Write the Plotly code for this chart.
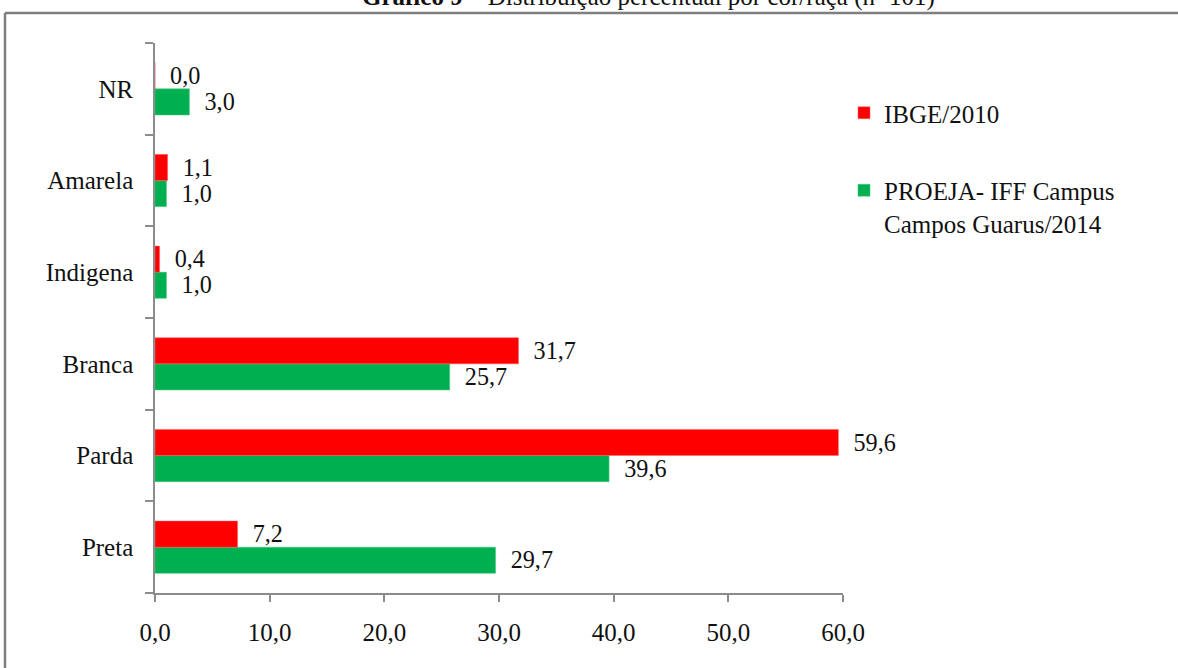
import plotly.graph_objects as go

categories = ["Preta", "Parda", "Branca", "Indigena", "Amarela", "NR"]
ibge_2010 = [7.2, 59.6, 31.7, 0.4, 1.1, 0.0]
proeja_2014 = [29.7, 39.6, 25.7, 1.0, 1.0, 3.0]
x_ticks = [0, 10, 20, 30, 40, 50, 60]

series_names = ["IBGE/2010", "PROEJA- IFF Campus<br>Campos Guarus/2014"]
RED = "#FF0000"
GREEN = "#00B050"
FONT = "Liberation Serif"
FS = 25

# plot area in pixels
W, H = 1178, 668
L, R, T, B = 155, 1178 - 843, 43, 668 - 593
PW, PH = W - L - R, H - T - B

def px_x(px):
    return (px - L) / PW

def px_y(py):
    return (H - B - py) / PH

fig = go.Figure()
fig.add_trace(go.Bar(
    y=categories, x=proeja_2014, orientation="h", name=series_names[1],
    marker=dict(color=GREEN, line=dict(color="#40c880", width=0.5)),
    texttemplate="\u2007%{x:.1f}", textposition="outside",
    textfont=dict(family=FONT, size=FS, color="#111111"),
    cliponaxis=False, legendgroup="b", legendrank=2,
))
fig.add_trace(go.Bar(
    y=categories, x=ibge_2010, orientation="h", name=series_names[0],
    marker=dict(color=RED, line=dict(color="#ff6060", width=0.5)),
    texttemplate="\u2007%{x:.1f}", textposition="outside",
    textfont=dict(family=FONT, size=FS, color="#111111"),
    cliponaxis=False, legendgroup="a", legendrank=1,
))

fig.update_layout(
    width=W, height=H,
    margin=dict(l=L, r=R, t=T, b=B, pad=0),
    paper_bgcolor="white", plot_bgcolor="white",
    barmode="group", bargap=0.43, bargroupgap=0,
    separators=",.",
    font=dict(family=FONT, size=FS, color="#111111"),
    showlegend=True,
    legend=dict(
        x=px_x(844), y=px_y(90), xanchor="left", yanchor="top",
        traceorder="grouped", tracegroupgap=42,
        itemwidth=30, valign="top",
        font=dict(family=FONT, size=FS, color="#111111"),
        bgcolor="rgba(0,0,0,0)",
    ),
    xaxis=dict(
        range=[0, 60], tickvals=x_ticks, tickformat=".1f",
        showgrid=False, zeroline=False,
        showline=True, linecolor="#8c8c8c", linewidth=1.5,
        ticks="outside", ticklen=7, tickcolor="#8c8c8c", tickwidth=1.5,
        tickfont=dict(family=FONT, size=FS, color="#111111"),
        ticklabelstandoff=9,
    ),
    yaxis=dict(
        type="category", categoryorder="array", categoryarray=categories,
        range=[-0.5, 5.5],
        showgrid=False, zeroline=False,
        showline=True, linecolor="#8c8c8c", linewidth=1.5,
        ticks="outside", ticklen=8, tickson="boundaries",
        tickcolor="#8c8c8c", tickwidth=1.5,
        tickfont=dict(family=FONT, size=FS, color="#111111"),
        ticklabelstandoff=15,
    ),
)

# title (partly cut off at page top, as in the reference)
fig.add_annotation(
    xref="paper", yref="paper", x=px_x(648), y=px_y(13),
    xanchor="center", yanchor="bottom", showarrow=False,
    text="<b>Gráfico 9</b> – Distribuição percentual por cor/raça (n=101)",
    font=dict(family=FONT, size=FS, color="#111111"),
)

# outer frame (top and left edges visible)
frame = dict(color="#7f7f7f", width=2.5)
fig.add_shape(type="line", xref="paper", yref="paper",
              x0=px_x(5), x1=px_x(1180), y0=px_y(13), y1=px_y(13), line=frame)
fig.add_shape(type="line", xref="paper", yref="paper",
              x0=px_x(5), x1=px_x(5), y0=px_y(13), y1=px_y(670), line=frame)

fig.write_html("out.html")
